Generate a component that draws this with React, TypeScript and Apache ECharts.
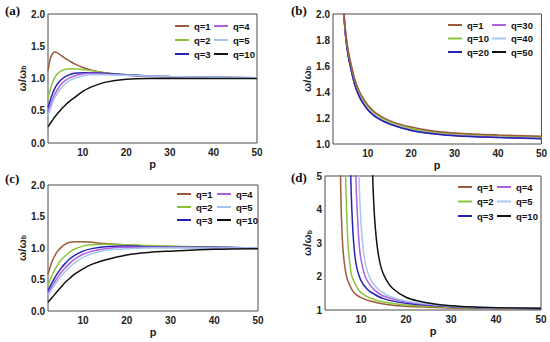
import React, { useEffect, useRef } from 'react';
import * as echarts from 'echarts';

// ---------- data ----------
const X_TICKS = [10, 20, 30, 40, 50];

// Panel (a)
const P_A = [2, 2.5, 3, 3.5, 4, 5, 6, 7, 8, 10, 12, 15, 20, 25, 30, 40, 50];
const A_Q1 = [1.12, 1.3, 1.38, 1.41, 1.4, 1.36, 1.31, 1.27, 1.23, 1.17, 1.13, 1.09, 1.05, 1.03, 1.02, 1.01, 1.01];
const A_Q2 = [0.68, 0.82, 0.93, 1.01, 1.06, 1.12, 1.145, 1.15, 1.15, 1.14, 1.12, 1.09, 1.06, 1.04, 1.03, 1.02, 1.01];
const A_Q3 = [0.55, 0.66, 0.76, 0.84, 0.9, 0.98, 1.03, 1.06, 1.08, 1.09, 1.09, 1.08, 1.06, 1.04, 1.03, 1.02, 1.01];
const A_Q4 = [0.48, 0.58, 0.67, 0.75, 0.81, 0.91, 0.97, 1.01, 1.04, 1.07, 1.08, 1.07, 1.05, 1.04, 1.03, 1.02, 1.01];
const A_Q5 = [0.42, 0.52, 0.61, 0.69, 0.75, 0.85, 0.92, 0.97, 1.0, 1.04, 1.06, 1.06, 1.05, 1.04, 1.03, 1.02, 1.01];
const A_Q10 = [0.25, 0.3, 0.35, 0.4, 0.44, 0.52, 0.59, 0.65, 0.7, 0.8, 0.87, 0.94, 0.99, 1.0, 1.0, 1.0, 1.0];

// Panel (b)
const P_B = [4.3, 4.6, 5, 5.5, 6, 7, 8, 9, 10, 12, 15, 20, 25, 30, 40, 50];
const B_Q1 = [2.1, 1.98, 1.84, 1.72, 1.64, 1.5, 1.41, 1.35, 1.3, 1.235, 1.18, 1.13, 1.1, 1.085, 1.07, 1.06];
const B_Q10 = [2.09, 1.97, 1.83, 1.71, 1.63, 1.49, 1.4, 1.34, 1.29, 1.225, 1.17, 1.12, 1.095, 1.08, 1.065, 1.055];
const B_Q20 = [2.08, 1.95, 1.8, 1.68, 1.6, 1.46, 1.37, 1.31, 1.264, 1.204, 1.154, 1.104, 1.079, 1.064, 1.05, 1.04];
const B_Q30 = [2.08, 1.95, 1.8, 1.68, 1.6, 1.46, 1.37, 1.31, 1.265, 1.205, 1.155, 1.105, 1.08, 1.066, 1.052, 1.043];
const B_Q40 = [2.08, 1.95, 1.8, 1.68, 1.6, 1.46, 1.37, 1.31, 1.266, 1.206, 1.156, 1.106, 1.081, 1.067, 1.053, 1.044];
const B_Q50 = [2.08, 1.95, 1.8, 1.68, 1.6, 1.46, 1.37, 1.31, 1.267, 1.207, 1.157, 1.107, 1.082, 1.068, 1.054, 1.045];

// Panel (c)
const P_C = [2, 2.5, 3, 3.5, 4, 5, 6, 7, 8, 10, 12, 15, 20, 25, 30, 40, 50];
const C_Q1 = [0.58, 0.7, 0.8, 0.87, 0.93, 1.01, 1.06, 1.09, 1.1, 1.1, 1.09, 1.07, 1.05, 1.03, 1.02, 1.01, 1.0];
const C_Q2 = [0.4, 0.5, 0.58, 0.65, 0.71, 0.81, 0.88, 0.94, 0.98, 1.03, 1.05, 1.06, 1.05, 1.04, 1.03, 1.01, 1.0];
const C_Q3 = [0.32, 0.39, 0.46, 0.52, 0.58, 0.68, 0.76, 0.83, 0.88, 0.95, 0.99, 1.02, 1.03, 1.02, 1.01, 1.01, 1.0];
const C_Q4 = [0.28, 0.34, 0.4, 0.46, 0.51, 0.61, 0.69, 0.76, 0.82, 0.9, 0.95, 0.99, 1.01, 1.01, 1.01, 1.0, 1.0];
const C_Q5 = [0.25, 0.3, 0.36, 0.41, 0.46, 0.55, 0.63, 0.7, 0.76, 0.85, 0.91, 0.96, 0.99, 1.0, 1.0, 1.0, 1.0];
const C_Q10 = [0.14, 0.18, 0.22, 0.26, 0.3, 0.38, 0.46, 0.52, 0.58, 0.67, 0.74, 0.81, 0.89, 0.93, 0.95, 0.98, 0.99];

// Panel (d)
const D_P1 = [5.4, 5.5, 5.7, 6, 6.5, 7, 8, 9, 10, 12, 15, 20, 30, 40, 50];
const D_Q1 = [5.6, 4.6, 3.6, 2.8, 2.2, 1.9, 1.6, 1.45, 1.37, 1.27, 1.18, 1.11, 1.06, 1.04, 1.03];
const D_P2 = [6.5, 6.65, 6.9, 7.2, 7.6, 8, 9, 10, 12, 15, 20, 30, 40, 50];
const D_Q2 = [5.6, 4.6, 3.6, 2.8, 2.3, 2.0, 1.7, 1.52, 1.36, 1.24, 1.15, 1.08, 1.05, 1.04];
const D_P3 = [7.65, 7.8, 8.1, 8.5, 9, 9.5, 10, 11, 12, 15, 20, 30, 40, 50];
const D_Q3 = [5.6, 4.6, 3.6, 2.8, 2.3, 2.05, 1.88, 1.68, 1.55, 1.34, 1.2, 1.1, 1.06, 1.04];
const D_P4 = [8.8, 8.95, 9.3, 9.7, 10.3, 11, 12, 13, 15, 20, 30, 40, 50];
const D_Q4 = [5.6, 4.6, 3.6, 2.8, 2.3, 1.98, 1.75, 1.6, 1.42, 1.24, 1.11, 1.06, 1.045];
const D_P5 = [9.5, 9.65, 10, 10.5, 11.1, 12, 13, 14, 16, 20, 30, 40, 50];
const D_Q5 = [5.6, 4.6, 3.6, 2.8, 2.3, 1.95, 1.74, 1.6, 1.43, 1.27, 1.12, 1.07, 1.05];
const D_P10 = [12.5, 12.7, 13.1, 13.7, 14.5, 15.5, 17, 20, 23, 26, 30, 35, 40, 50];
const D_Q10 = [5.6, 4.6, 3.6, 2.8, 2.25, 1.93, 1.65, 1.38, 1.26, 1.19, 1.13, 1.09, 1.07, 1.05];

const NAMES_Q = ['q=1', 'q=2', 'q=3', 'q=4', 'q=5', 'q=10'];
const NAMES_B = ['q=1', 'q=10', 'q=20', 'q=30', 'q=40', 'q=50'];
const COLORS = ['#9b5a3c', '#8cc43c', '#2424b4', '#b060e0', '#a4c8f0', '#111111'];

const FONT = '"Liberation Sans", Arial, sans-serif';

const zip = (xs: number[], ys: number[]) => xs.map((x, i) => [x, ys[i]]);

export default function App() {
  const ref = useRef<HTMLDivElement>(null);
  useEffect(() => {
    const chart = echarts.init(ref.current!, null, { renderer: 'svg' });

    const grids = [
      { left: 48, top: 14, width: 209, height: 129 },
      { left: 333, top: 14, width: 209, height: 130 },
      { left: 48, top: 185, width: 210, height: 126 },
      { left: 325, top: 176, width: 216, height: 134 },
    ].map((g) => ({ ...g, show: true, borderColor: '#4a4a4a', borderWidth: 1, backgroundColor: 'transparent' }));

    const labelStyle = { fontFamily: FONT, fontWeight: 'bold' as const, fontSize: 10, color: '#222' };

    const xAxes = [0, 1, 2, 3].map((i) => ({
      type: 'value',
      gridIndex: i,
      min: 2,
      max: 50,
      name: 'p',
      nameLocation: 'middle',
      nameGap: 15,
      nameTextStyle: { fontFamily: FONT, fontWeight: 'bold', fontSize: 11, color: '#222' },
      axisLine: { show: false },
      axisTick: { show: false },
      splitLine: { show: false },
      axisLabel: { ...labelStyle, margin: 4, customValues: X_TICKS },
    }));

    const yDefs = [
      { min: 0, max: 2, interval: 0.5, dec: 1 },
      { min: 1, max: 2, interval: 0.2, dec: 1 },
      { min: 0, max: 2, interval: 0.5, dec: 1 },
      { min: 1, max: 5, interval: 1, dec: 0 },
    ];
    const yAxes = yDefs.map((d, i) => ({
      type: 'value',
      gridIndex: i,
      min: d.min,
      max: d.max,
      interval: d.interval,
      name: 'ω/ω{s|b}',
      nameLocation: 'middle',
      nameRotate: 90,
      nameGap: i === 3 ? 9 : 15,
      nameTextStyle: {
        fontFamily: FONT,
        fontWeight: 'bold',
        fontSize: 11,
        color: '#222',
        rich: { s: { fontFamily: FONT, fontWeight: 'bold', fontSize: 7, color: '#222', verticalAlign: 'bottom', padding: [4, 0, 0, 0] } },
      },
      axisLine: { show: false },
      axisTick: { show: false },
      splitLine: { show: false },
      axisLabel: { ...labelStyle, margin: 3, formatter: (v: number) => v.toFixed(d.dec) },
    }));

    // series ids are prefixed with the panel letter so each panel's legend picks its own colours
    const mk = (panel: string, name: string, color: string, idx: number, data: number[][]) => ({
      type: 'line',
      name: panel + ':' + name,
      xAxisIndex: idx,
      yAxisIndex: idx,
      data,
      symbol: 'none',
      showSymbol: false,
      smooth: 0.35,
      clip: true,
      lineStyle: { color, width: 1.5 },
      itemStyle: { color },
      emphasis: { disabled: true },
    });

    const aData = [A_Q1, A_Q2, A_Q3, A_Q4, A_Q5, A_Q10];
    const bData = [B_Q1, B_Q10, B_Q20, B_Q30, B_Q40, B_Q50];
    const cData = [C_Q1, C_Q2, C_Q3, C_Q4, C_Q5, C_Q10];
    const dP = [D_P1, D_P2, D_P3, D_P4, D_P5, D_P10];
    const dData = [D_Q1, D_Q2, D_Q3, D_Q4, D_Q5, D_Q10];

    const series: any[] = [];
    aData.forEach((ys, k) => series.push(mk('a', NAMES_Q[k], COLORS[k], 0, zip(P_A, ys))));
    [5, 4, 3, 2, 1, 0].forEach((k) => series.push(mk('b', NAMES_B[k], COLORS[k], 1, zip(P_B, bData[k]))));
    cData.forEach((ys, k) => series.push(mk('c', NAMES_Q[k], COLORS[k], 2, zip(P_C, ys))));
    dData.forEach((ys, k) => series.push(mk('d', NAMES_Q[k], COLORS[k], 3, zip(dP[k], ys))));

    const legend = (panel: string, left: number, top: number, names: string[], gap: number) => ({
      orient: 'vertical',
      left,
      top,
      data: names.map((n) => panel + ':' + n),
      formatter: (n: string) => n.split(':')[1],
      icon: 'rect',
      itemWidth: 14,
      itemHeight: 2,
      itemGap: gap,
      selectedMode: false,
      padding: 0,
      textStyle: { fontFamily: FONT, fontWeight: 'bold', fontSize: 9.5, color: '#111' },
    });

    const legends = [
      legend('a', 175, 21, ['q=1', 'q=2', 'q=3'], 4),
      legend('a', 214, 21, ['q=4', 'q=5', 'q=10'], 4),
      legend('b', 448, 20, ['q=1', 'q=10', 'q=20'], 3.5),
      legend('b', 492, 20, ['q=30', 'q=40', 'q=50'], 3.5),
      legend('c', 177, 189, ['q=1', 'q=2', 'q=3'], 3),
      legend('c', 217, 189, ['q=4', 'q=5', 'q=10'], 3),
      legend('d', 458, 182, ['q=1', 'q=2', 'q=3'], 4.5),
      legend('d', 497, 182, ['q=4', 'q=5', 'q=10'], 4.5),
    ];

    const panelLabel = (x: number, y: number, t: string) => ({
      type: 'text',
      x,
      y,
      style: { text: t, font: 'bold 13px "Liberation Serif", "Times New Roman", serif', fill: '#111', textVerticalAlign: 'middle' },
    });

    chart.setOption({
      animation: false,
      backgroundColor: '#fff',
      grid: grids,
      xAxis: xAxes,
      yAxis: yAxes,
      legend: legends,
      series,
      graphic: [
        panelLabel(5, 10, '(a)'),
        panelLabel(291, 10, '(b)'),
        panelLabel(5, 178, '(c)'),
        panelLabel(291, 177, '(d)'),
      ],
    });
    return () => chart.dispose();
  }, []);
  return (
    <div
      ref={ref}
      style={{ position: 'fixed', left: 0, top: 0, width: 550, height: 342, background: '#fff' }}
    />
  );
}
